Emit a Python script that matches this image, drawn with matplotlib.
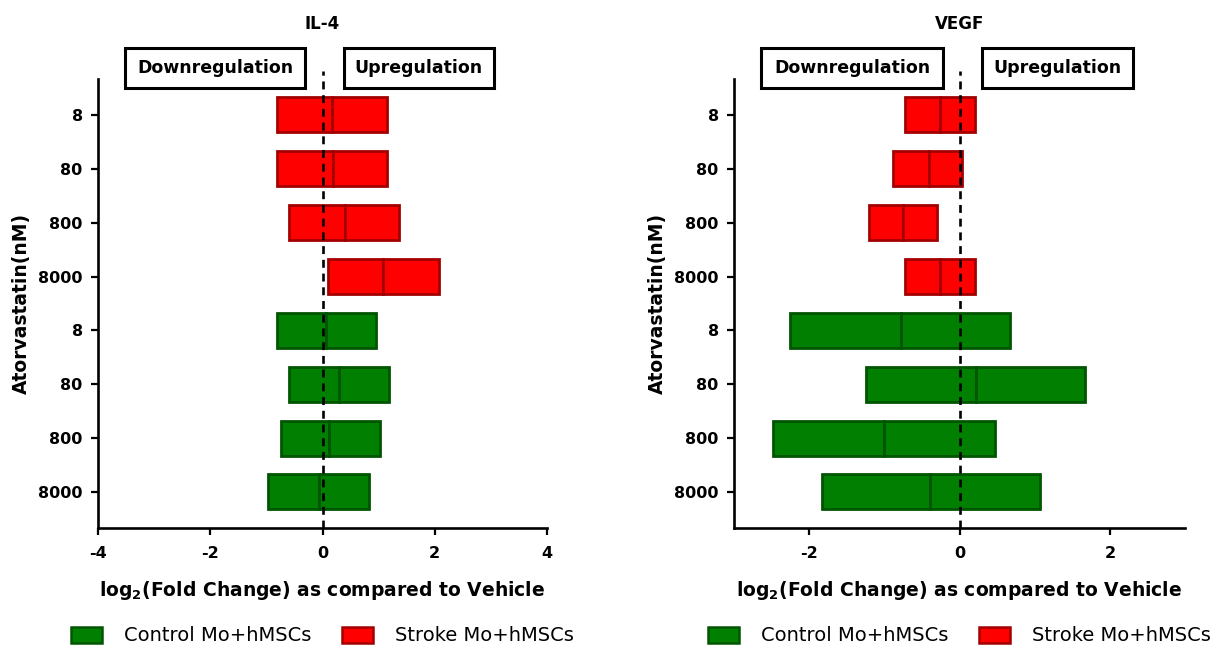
import numpy as np
import matplotlib
matplotlib.use("Agg")
import matplotlib.pyplot as plt
from matplotlib.patches import Patch, Rectangle
from matplotlib.transforms import blended_transform_factory

plt.rcParams['font.family'] = ['DejaVu Sans']

# dados (log2 fold change): min, mediana, max por dose
doses = ["8", "80", "800", "8000"]

il4_stroke_min = [-0.81, -0.81, -0.59, 0.10]
il4_stroke_med = [0.17, 0.18, 0.40, 1.07]
il4_stroke_max = [1.15, 1.15, 1.37, 2.07]
il4_control_min = [-0.81, -0.59, -0.74, -0.97]
il4_control_med = [0.07, 0.29, 0.12, -0.07]
il4_control_max = [0.95, 1.18, 1.02, 0.83]

vegf_stroke_min = [-0.73, -0.88, -1.20, -0.73]
vegf_stroke_med = [-0.26, -0.41, -0.75, -0.26]
vegf_stroke_max = [0.21, 0.03, -0.30, 0.21]
vegf_control_min = [-2.25, -1.25, -2.48, -1.83]
vegf_control_med = [-0.78, 0.22, -1.00, -0.39]
vegf_control_max = [0.67, 1.67, 0.47, 1.07]

red, red_edge = "#ff0000", "#a30000"
green, green_edge = "#007f00", "#005500"

fig = plt.figure(figsize=(12.27, 6.48), dpi=100)
W, H = 1227, 648


def painel(left_px, right_px, title, smin, smed, smax, cmin, cmed, cmax,
           xlim, xticks, down_box, up_box):
    top_px, bot_px = 79, 527.7
    ax = fig.add_axes([left_px / W, 1 - bot_px / H,
                       (right_px - left_px) / W, (bot_px - top_px) / H])
    ystroke = np.arange(4)
    ycontrol = np.arange(4, 8)
    h = 0.65
    for y, mn, md, mx, fc, ec in [(ystroke, smin, smed, smax, red, red_edge),
                                  (ycontrol, cmin, cmed, cmax, green, green_edge)]:
        mn, md, mx = np.array(mn), np.array(md), np.array(mx)
        ax.barh(y, md - mn, left=mn, height=h, color=fc, edgecolor=ec, linewidth=2.0)
        ax.barh(y, mx - md, left=md, height=h, color=fc, edgecolor=ec, linewidth=2.0)

    ax.set_xlim(*xlim)
    ax.set_ylim(7.665, -0.668)
    ax.set_xticks(xticks)
    ax.set_xticklabels([str(t) for t in xticks])
    ax.set_yticks(np.arange(8))
    ax.set_yticklabels(doses * 2)
    for s in ["top", "right"]:
        ax.spines[s].set_visible(False)
    for s in ["left", "bottom"]:
        ax.spines[s].set_linewidth(1.9)
    ax.tick_params(axis="both", length=5, width=1.6, labelsize=11.5)
    ax.tick_params(axis="x", pad=8)
    ax.tick_params(axis="y", pad=6)
    for lab in ax.get_xticklabels() + ax.get_yticklabels():
        lab.set_fontweight("bold")

    trans = blended_transform_factory(ax.transData, ax.transAxes)
    ax.plot([0, 0], [0, 1.018], transform=trans, color="black", lw=1.9,
            ls=(0, (3, 2.2)), clip_on=False, zorder=5)

    ax.set_xlabel(r"log$_\mathbf{2}$(Fold Change) as compared to Vehicle",
                  fontsize=13.5, fontweight="bold")
    ax.xaxis.set_label_coords(0.5, -0.139)
    ax.xaxis.label.set_va("center")
    ax.set_ylabel("Atorvastatin(nM)", fontsize=13.5, fontweight="bold")
    ax.yaxis.set_label_coords(-0.17, 0.5)
    ax.yaxis.label.set_va("center")

    ax.text(0.5, 1.1226, title, transform=ax.transAxes, ha="center",
            va="center", fontsize=12, fontweight="bold")

    for (x0, x1), txt in [(down_box, "Downregulation"), (up_box, "Upregulation")]:
        ax.add_patch(Rectangle((x0, 0.98), x1 - x0, 0.089, transform=trans,
                               facecolor="white", edgecolor="black", lw=2.2,
                               clip_on=False, zorder=6))
        ax.text((x0 + x1) / 2, 1.0245, txt, transform=trans, ha="center",
                va="center", fontsize=12.5, fontweight="bold", zorder=7)

    handles = [Patch(facecolor=green, edgecolor=green_edge, linewidth=1.8,
                     label="Control Mo+hMSCs"),
               Patch(facecolor=red, edgecolor=red_edge, linewidth=1.8,
                     label="Stroke Mo+hMSCs")]
    ax.legend(handles=handles, loc="center", bbox_to_anchor=(0.5, -0.241),
              ncol=2, frameon=False, fontsize=14, handlelength=1.6,
              handleheight=0.9, handletextpad=1.1, columnspacing=1.6)
    return ax


painel(98, 547, "IL-4", il4_stroke_min, il4_stroke_med, il4_stroke_max,
       il4_control_min, il4_control_med, il4_control_max,
       (-4, 4), [-4, -2, 0, 2, 4], (-3.52, -0.31), (0.38, 3.05))
painel(734, 1185, "VEGF", vegf_stroke_min, vegf_stroke_med, vegf_stroke_max,
       vegf_control_min, vegf_control_med, vegf_control_max,
       (-3, 3), [-2, 0, 2], (-2.64, -0.22), (0.30, 2.31))

fig.savefig("out.png", dpi=100)
